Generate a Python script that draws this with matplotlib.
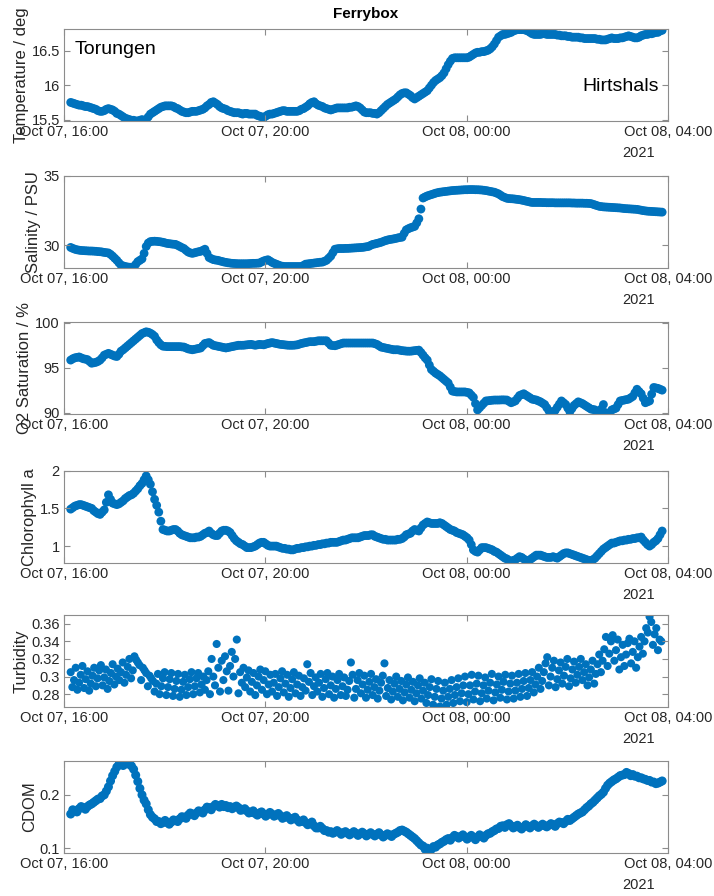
import numpy as np
import pandas as pd
import matplotlib
matplotlib.use("Agg")
import matplotlib.pyplot as plt
import matplotlib.dates as mdates
from matplotlib.ticker import FuncFormatter

plt.rcParams['font.family'] = ['Liberation Sans', 'DejaVu Sans']

# samples every 2.5 min from Oct 07 16:08, one row per hour (24 per row)
temperature = [
    15.75, 15.74, 15.73, 15.72, 15.71, 15.71, 15.70, 15.69, 15.69, 15.68, 15.67, 15.66, 15.65, 15.63, 15.62, 15.62, 15.63, 15.65, 15.66, 15.65, 15.64, 15.62, 15.59, 15.58,
    15.56, 15.54, 15.52, 15.51, 15.50, 15.49, 15.49, 15.48, 15.48, 15.49, 15.50, 15.49, 15.50, 15.54, 15.58, 15.60, 15.62, 15.64, 15.66, 15.68, 15.69, 15.70, 15.70, 15.70,
    15.70, 15.69, 15.67, 15.66, 15.64, 15.62, 15.61, 15.60, 15.60, 15.61, 15.62, 15.62, 15.62, 15.63, 15.64, 15.65, 15.67, 15.70, 15.72, 15.75, 15.76, 15.74, 15.72, 15.69,
    15.67, 15.66, 15.65, 15.63, 15.62, 15.61, 15.60, 15.60, 15.60, 15.59, 15.58, 15.59, 15.59, 15.58, 15.58, 15.58, 15.58, 15.56, 15.55, 15.54, 15.53, 15.55, 15.57, 15.58,
    15.58, 15.59, 15.60, 15.61, 15.62, 15.63, 15.63, 15.62, 15.62, 15.62, 15.62, 15.62, 15.62, 15.63, 15.65, 15.66, 15.68, 15.70, 15.73, 15.75, 15.76, 15.73, 15.71, 15.70,
    15.69, 15.67, 15.66, 15.65, 15.64, 15.65, 15.66, 15.67, 15.67, 15.67, 15.67, 15.67, 15.67, 15.68, 15.68, 15.69, 15.70, 15.69, 15.67, 15.64, 15.61, 15.60, 15.60, 15.60,
    15.59, 15.59, 15.58, 15.60, 15.63, 15.66, 15.69, 15.72, 15.74, 15.76, 15.78, 15.80, 15.83, 15.86, 15.88, 15.89, 15.89, 15.87, 15.85, 15.82, 15.80, 15.82, 15.84, 15.86,
    15.88, 15.90, 15.92, 15.96, 16.00, 16.04, 16.07, 16.09, 16.11, 16.14, 16.18, 16.24, 16.30, 16.35, 16.39, 16.40, 16.40, 16.40, 16.40, 16.40, 16.40, 16.40, 16.41, 16.43,
    16.45, 16.47, 16.48, 16.48, 16.49, 16.49, 16.50, 16.51, 16.53, 16.56, 16.60, 16.65, 16.70, 16.72, 16.74, 16.74, 16.75, 16.76, 16.77, 16.79, 16.80, 16.81, 16.81, 16.81,
    16.81, 16.80, 16.79, 16.77, 16.75, 16.74, 16.74, 16.74, 16.74, 16.75, 16.75, 16.74, 16.74, 16.74, 16.74, 16.74, 16.73, 16.73, 16.72, 16.72, 16.72, 16.71, 16.71, 16.70,
    16.70, 16.70, 16.70, 16.69, 16.69, 16.68, 16.68, 16.68, 16.68, 16.68, 16.68, 16.67, 16.67, 16.66, 16.66, 16.66, 16.67, 16.68, 16.69, 16.68, 16.68, 16.68, 16.69, 16.69,
    16.70, 16.71, 16.72, 16.71, 16.70, 16.69, 16.69, 16.70, 16.72, 16.73, 16.74, 16.74, 16.75, 16.75, 16.76, 16.77, 16.77, 16.79, 16.80,
]
salinity = [
    29.83, 29.76, 29.70, 29.66, 29.63, 29.61, 29.60, 29.59, 29.58, 29.57, 29.57, 29.56, 29.55, 29.53, 29.52, 29.50, 29.47, 29.45, 29.43, 29.33, 29.20, 29.05, 28.90, 28.72,
    28.55, 28.50, 28.45, 28.42, 28.40, 28.40, 28.42, 28.60, 28.80, 28.90, 29.00, 29.40, 29.90, 30.15, 30.25, 30.27, 30.28, 30.27, 30.25, 30.23, 30.20, 30.16, 30.12, 30.10,
    30.08, 30.06, 30.05, 29.98, 29.90, 29.82, 29.75, 29.62, 29.50, 29.44, 29.40, 29.44, 29.48, 29.52, 29.55, 29.62, 29.70, 29.40, 29.10, 29.02, 28.95, 28.92, 28.90, 28.86,
    28.82, 28.78, 28.75, 28.72, 28.70, 28.68, 28.67, 28.66, 28.65, 28.65, 28.65, 28.65, 28.65, 28.66, 28.67, 28.68, 28.68, 28.69, 28.70, 28.78, 28.85, 28.90, 28.94, 28.85,
    28.75, 28.68, 28.62, 28.56, 28.50, 28.47, 28.45, 28.45, 28.45, 28.45, 28.45, 28.45, 28.45, 28.45, 28.45, 28.53, 28.62, 28.64, 28.66, 28.68, 28.70, 28.72, 28.74, 28.76,
    28.77, 28.83, 28.90, 29.05, 29.20, 29.45, 29.70, 29.73, 29.75, 29.75, 29.75, 29.76, 29.76, 29.77, 29.78, 29.79, 29.80, 29.81, 29.82, 29.83, 29.85, 29.88, 29.90, 29.98,
    30.05, 30.08, 30.12, 30.16, 30.20, 30.26, 30.32, 30.36, 30.40, 30.42, 30.45, 30.48, 30.52, 30.55, 30.57, 30.85, 31.10, 31.18, 31.25, 31.30, 31.35, 31.60, 31.90, 32.60,
    33.40, 33.48, 33.55, 33.60, 33.65, 33.70, 33.75, 33.79, 33.82, 33.84, 33.86, 33.88, 33.90, 33.92, 33.94, 33.95, 33.96, 33.97, 33.98, 33.99, 34.00, 34.00, 34.01, 34.01,
    34.01, 34.00, 34.00, 33.99, 33.98, 33.96, 33.94, 33.91, 33.88, 33.85, 33.82, 33.76, 33.70, 33.60, 33.50, 33.44, 33.38, 33.36, 33.35, 33.34, 33.32, 33.30, 33.28, 33.25,
    33.22, 33.18, 33.15, 33.11, 33.08, 33.08, 33.08, 33.08, 33.08, 33.07, 33.07, 33.06, 33.06, 33.06, 33.06, 33.05, 33.05, 33.05, 33.05, 33.05, 33.05, 33.05, 33.05, 33.04,
    33.04, 33.03, 33.03, 33.03, 33.03, 33.02, 33.02, 33.01, 33.00, 32.95, 32.90, 32.85, 32.80, 32.78, 32.76, 32.75, 32.74, 32.73, 32.72, 32.71, 32.70, 32.69, 32.68, 32.66,
    32.64, 32.63, 32.62, 32.61, 32.60, 32.59, 32.58, 32.55, 32.52, 32.49, 32.47, 32.45, 32.44, 32.43, 32.42, 32.41, 32.40, 32.39, 32.38,
]
o2_saturation = [
    95.85, 96.00, 96.10, 96.15, 96.20, 96.10, 96.00, 95.95, 95.90, 95.70, 95.50, 95.55, 95.60, 95.70, 95.85, 96.10, 96.40, 96.50, 96.60, 96.50, 96.40, 96.30, 96.25, 96.50,
    96.84, 97.00, 97.20, 97.40, 97.60, 97.80, 98.00, 98.20, 98.40, 98.60, 98.80, 98.90, 99.00, 98.95, 98.85, 98.70, 98.50, 98.10, 97.80, 97.55, 97.40, 97.38, 97.35, 97.35,
    97.35, 97.35, 97.35, 97.35, 97.35, 97.32, 97.30, 97.20, 97.10, 97.05, 97.00, 97.05, 97.10, 97.15, 97.20, 97.45, 97.70, 97.75, 97.80, 97.65, 97.50, 97.45, 97.40, 97.35,
    97.30, 97.25, 97.20, 97.25, 97.30, 97.35, 97.40, 97.45, 97.50, 97.50, 97.50, 97.52, 97.55, 97.58, 97.60, 97.55, 97.50, 97.55, 97.60, 97.58, 97.55, 97.62, 97.70, 97.75,
    97.80, 97.75, 97.70, 97.65, 97.60, 97.58, 97.55, 97.52, 97.50, 97.50, 97.50, 97.52, 97.55, 97.62, 97.70, 97.75, 97.80, 97.85, 97.90, 97.90, 97.90, 97.95, 98.00, 98.00,
    98.00, 98.00, 98.00, 97.75, 97.50, 97.47, 97.45, 97.52, 97.60, 97.68, 97.75, 97.75, 97.75, 97.75, 97.75, 97.75, 97.75, 97.75, 97.75, 97.75, 97.75, 97.75, 97.75, 97.75,
    97.75, 97.68, 97.60, 97.45, 97.30, 97.25, 97.20, 97.15, 97.10, 97.05, 97.00, 97.00, 97.00, 96.95, 96.90, 96.88, 96.85, 96.84, 96.84, 96.87, 96.90, 96.93, 96.96, 96.70,
    96.40, 96.10, 95.85, 95.30, 94.80, 94.60, 94.40, 94.25, 94.10, 93.90, 93.70, 93.50, 93.30, 92.85, 92.40, 92.35, 92.30, 92.30, 92.30, 92.30, 92.30, 92.25, 92.20, 91.95,
    91.70, 91.00, 90.30, 90.55, 90.80, 91.05, 91.30, 91.32, 91.35, 91.38, 91.40, 91.40, 91.40, 91.41, 91.42, 91.41, 91.40, 91.25, 91.10, 91.20, 91.30, 91.60, 91.90, 92.00,
    92.10, 91.95, 91.80, 91.65, 91.50, 91.45, 91.40, 91.30, 91.20, 91.05, 90.90, 90.55, 90.20, 90.05, 89.90, 90.25, 90.60, 90.95, 91.30, 91.10, 90.90, 90.50, 90.10, 90.45,
    90.80, 91.00, 91.20, 91.10, 91.00, 90.85, 90.70, 90.55, 90.40, 90.35, 90.30, 90.10, 89.90, 90.40, 90.90, 90.00, 89.10, 89.70, 90.30, 90.40, 90.50, 90.90, 91.30, 91.35,
    91.40, 91.45, 91.50, 91.65, 91.80, 92.20, 92.60, 92.35, 92.10, 91.60, 91.10, 91.20, 91.30, 92.05, 92.80, 92.75, 92.70, 92.60, 92.50,
]
chlorophyll = [
    1.49, 1.51, 1.53, 1.54, 1.55, 1.55, 1.54, 1.53, 1.52, 1.51, 1.50, 1.47, 1.45, 1.43, 1.42, 1.45, 1.48, 1.58, 1.68, 1.62, 1.57, 1.56, 1.55, 1.56,
    1.58, 1.60, 1.63, 1.65, 1.67, 1.68, 1.70, 1.73, 1.76, 1.80, 1.83, 1.88, 1.93, 1.88, 1.82, 1.72, 1.62, 1.54, 1.45, 1.33, 1.22, 1.21, 1.20, 1.20,
    1.21, 1.22, 1.22, 1.20, 1.17, 1.15, 1.14, 1.13, 1.12, 1.11, 1.11, 1.11, 1.12, 1.12, 1.13, 1.15, 1.17, 1.18, 1.20, 1.17, 1.15, 1.14, 1.14, 1.17,
    1.20, 1.21, 1.21, 1.20, 1.18, 1.14, 1.10, 1.07, 1.05, 1.03, 1.02, 1.00, 0.98, 0.98, 0.98, 0.99, 1.00, 1.02, 1.04, 1.05, 1.05, 1.03, 1.01, 1.00,
    1.00, 1.00, 1.00, 0.99, 0.98, 0.97, 0.97, 0.96, 0.96, 0.95, 0.95, 0.96, 0.97, 0.97, 0.98, 0.98, 0.99, 0.99, 1.00, 1.00, 1.01, 1.01, 1.02, 1.02,
    1.03, 1.03, 1.04, 1.04, 1.05, 1.05, 1.05, 1.05, 1.06, 1.07, 1.08, 1.08, 1.09, 1.10, 1.11, 1.11, 1.11, 1.11, 1.12, 1.13, 1.14, 1.14, 1.14, 1.15,
    1.15, 1.13, 1.12, 1.11, 1.10, 1.09, 1.09, 1.08, 1.08, 1.08, 1.08, 1.08, 1.09, 1.09, 1.10, 1.12, 1.15, 1.16, 1.17, 1.20, 1.22, 1.21, 1.20, 1.24,
    1.28, 1.30, 1.32, 1.31, 1.30, 1.30, 1.30, 1.30, 1.31, 1.30, 1.28, 1.26, 1.24, 1.22, 1.21, 1.20, 1.18, 1.17, 1.16, 1.15, 1.13, 1.11, 1.08, 1.02,
    0.95, 0.93, 0.92, 0.95, 0.98, 0.98, 0.98, 0.97, 0.96, 0.95, 0.93, 0.92, 0.90, 0.88, 0.86, 0.84, 0.83, 0.81, 0.80, 0.81, 0.82, 0.84, 0.86, 0.85,
    0.83, 0.81, 0.80, 0.82, 0.84, 0.86, 0.88, 0.88, 0.88, 0.87, 0.86, 0.85, 0.85, 0.85, 0.86, 0.85, 0.84, 0.86, 0.88, 0.90, 0.91, 0.91, 0.90, 0.89,
    0.88, 0.87, 0.86, 0.85, 0.84, 0.83, 0.82, 0.81, 0.81, 0.82, 0.84, 0.87, 0.90, 0.93, 0.96, 0.98, 1.00, 1.02, 1.04, 1.04, 1.05, 1.06, 1.07, 1.07,
    1.08, 1.08, 1.09, 1.09, 1.10, 1.10, 1.11, 1.11, 1.12, 1.08, 1.05, 1.02, 1.00, 1.02, 1.05, 1.07, 1.10, 1.15, 1.20,
]
cdom = [
    0.164, 0.172, 0.170, 0.168, 0.174, 0.178, 0.176, 0.173, 0.178, 0.181, 0.183, 0.186, 0.189, 0.192, 0.193, 0.198, 0.200, 0.207, 0.215, 0.226, 0.236, 0.244, 0.252, 0.257,
    0.260, 0.255, 0.264, 0.258, 0.262, 0.254, 0.248, 0.237, 0.225, 0.212, 0.200, 0.190, 0.183, 0.172, 0.163, 0.158, 0.155, 0.150, 0.150, 0.146, 0.148, 0.152, 0.148, 0.145,
    0.149, 0.153, 0.152, 0.150, 0.155, 0.159, 0.158, 0.156, 0.162, 0.166, 0.164, 0.161, 0.166, 0.170, 0.169, 0.166, 0.172, 0.177, 0.176, 0.172, 0.178, 0.182, 0.180, 0.177,
    0.182, 0.178, 0.180, 0.176, 0.178, 0.174, 0.177, 0.179, 0.176, 0.171, 0.172, 0.174, 0.170, 0.166, 0.167, 0.170, 0.165, 0.162, 0.166, 0.168, 0.164, 0.160, 0.163, 0.167,
    0.164, 0.160, 0.162, 0.165, 0.161, 0.156, 0.158, 0.161, 0.157, 0.153, 0.156, 0.158, 0.153, 0.149, 0.150, 0.153, 0.148, 0.144, 0.146, 0.149, 0.142, 0.138, 0.138, 0.141,
    0.137, 0.133, 0.133, 0.130, 0.131, 0.128, 0.130, 0.133, 0.130, 0.126, 0.129, 0.131, 0.128, 0.125, 0.128, 0.131, 0.128, 0.124, 0.127, 0.130, 0.127, 0.123, 0.126, 0.129,
    0.126, 0.123, 0.126, 0.129, 0.125, 0.121, 0.124, 0.127, 0.125, 0.122, 0.126, 0.128, 0.130, 0.133, 0.134, 0.132, 0.130, 0.127, 0.124, 0.121, 0.118, 0.114, 0.110, 0.106,
    0.104, 0.098, 0.100, 0.096, 0.098, 0.103, 0.102, 0.106, 0.108, 0.111, 0.113, 0.116, 0.118, 0.115, 0.120, 0.124, 0.122, 0.119, 0.122, 0.125, 0.121, 0.117, 0.121, 0.124,
    0.120, 0.116, 0.121, 0.125, 0.122, 0.119, 0.124, 0.127, 0.128, 0.131, 0.133, 0.136, 0.137, 0.141, 0.142, 0.139, 0.144, 0.146, 0.142, 0.138, 0.140, 0.143, 0.139, 0.136,
    0.140, 0.144, 0.141, 0.138, 0.142, 0.145, 0.142, 0.139, 0.142, 0.145, 0.142, 0.140, 0.143, 0.146, 0.144, 0.141, 0.146, 0.149, 0.148, 0.146, 0.150, 0.154, 0.152, 0.155,
    0.158, 0.161, 0.164, 0.166, 0.168, 0.172, 0.176, 0.179, 0.183, 0.186, 0.190, 0.194, 0.198, 0.201, 0.205, 0.212, 0.218, 0.222, 0.225, 0.228, 0.230, 0.233, 0.236, 0.237,
    0.238, 0.242, 0.240, 0.236, 0.238, 0.235, 0.235, 0.232, 0.232, 0.230, 0.229, 0.227, 0.227, 0.224, 0.224, 0.221, 0.222, 0.224, 0.226,
]
# turbidity is noisy, read every 2 min from 16:08 (30 per row)
turbidity = [
    0.305, 0.288, 0.296, 0.310, 0.285, 0.293, 0.302, 0.312, 0.287, 0.297, 0.306, 0.284, 0.292, 0.301, 0.310, 0.289, 0.298, 0.307, 0.313, 0.290, 0.299, 0.308, 0.286, 0.295, 0.304, 0.314, 0.291, 0.300, 0.309, 0.296,
    0.305, 0.316, 0.293, 0.302, 0.311, 0.320, 0.298, 0.307, 0.323, 0.319, 0.316, 0.313, 0.296, 0.310, 0.307, 0.304, 0.289, 0.301, 0.298, 0.295, 0.283, 0.292, 0.303, 0.280, 0.289, 0.298, 0.305, 0.279, 0.288, 0.297,
    0.304, 0.278, 0.286, 0.295, 0.303, 0.277, 0.285, 0.294, 0.302, 0.279, 0.288, 0.297, 0.305, 0.280, 0.289, 0.298, 0.304, 0.282, 0.291, 0.300, 0.285, 0.296, 0.306, 0.280, 0.320, 0.300, 0.290, 0.337, 0.310, 0.283,
    0.318, 0.296, 0.323, 0.306, 0.284, 0.312, 0.328, 0.300, 0.320, 0.342, 0.281, 0.305, 0.293, 0.310, 0.288, 0.299, 0.307, 0.283, 0.294, 0.304, 0.279, 0.290, 0.300, 0.308, 0.285, 0.296, 0.306, 0.280, 0.291, 0.302,
    0.283, 0.293, 0.303, 0.278, 0.288, 0.298, 0.306, 0.282, 0.292, 0.302, 0.277, 0.287, 0.297, 0.305, 0.281, 0.291, 0.301, 0.278, 0.288, 0.298, 0.284, 0.314, 0.294, 0.304, 0.279, 0.289, 0.299, 0.283, 0.293, 0.303,
    0.277, 0.287, 0.297, 0.304, 0.280, 0.290, 0.300, 0.276, 0.286, 0.296, 0.303, 0.279, 0.289, 0.299, 0.278, 0.285, 0.295, 0.316, 0.302, 0.276, 0.286, 0.296, 0.304, 0.281, 0.291, 0.301, 0.276, 0.285, 0.294, 0.303,
    0.279, 0.288, 0.297, 0.275, 0.284, 0.293, 0.301, 0.315, 0.278, 0.287, 0.296, 0.274, 0.283, 0.292, 0.300, 0.277, 0.286, 0.295, 0.273, 0.282, 0.291, 0.299, 0.276, 0.285, 0.294, 0.272, 0.281, 0.290, 0.298, 0.275,
    0.284, 0.293, 0.270, 0.279, 0.288, 0.297, 0.268, 0.277, 0.286, 0.295, 0.266, 0.275, 0.284, 0.293, 0.268, 0.277, 0.286, 0.296, 0.270, 0.279, 0.288, 0.298, 0.272, 0.281, 0.290, 0.300, 0.271, 0.280, 0.290, 0.302,
    0.274, 0.283, 0.292, 0.301, 0.272, 0.281, 0.290, 0.299, 0.275, 0.284, 0.293, 0.303, 0.273, 0.282, 0.291, 0.300, 0.276, 0.285, 0.294, 0.302, 0.274, 0.283, 0.292, 0.301, 0.275, 0.284, 0.293, 0.303, 0.277, 0.286,
    0.295, 0.304, 0.278, 0.287, 0.296, 0.305, 0.282, 0.291, 0.300, 0.310, 0.286, 0.295, 0.305, 0.315, 0.322, 0.290, 0.300, 0.310, 0.318, 0.288, 0.297, 0.307, 0.316, 0.292, 0.301, 0.311, 0.320, 0.289, 0.298, 0.308,
    0.317, 0.293, 0.302, 0.311, 0.320, 0.296, 0.305, 0.314, 0.290, 0.299, 0.308, 0.318, 0.292, 0.303, 0.314, 0.325, 0.305, 0.318, 0.331, 0.345, 0.312, 0.326, 0.340, 0.347, 0.318, 0.330, 0.342, 0.308, 0.322, 0.336,
    0.312, 0.325, 0.338, 0.343, 0.315, 0.328, 0.340, 0.310, 0.322, 0.334, 0.345, 0.326, 0.340, 0.355, 0.350, 0.368, 0.362, 0.336, 0.348, 0.355, 0.330, 0.342, 0.340,
]

start = pd.Timestamp('2021-10-07 16:08')
t_main = pd.date_range(start, periods=len(temperature), freq='150s')
t_turb = pd.date_range(start, periods=len(turbidity), freq='2min')

panels = [
    (t_main, temperature, 'Temperature / deg', (15.48, 16.82), [15.5, 16, 16.5], 40),
    (t_main, salinity, 'Salinity / PSU', (28.35, 35), [30, 35], 40),
    (t_main, o2_saturation, 'O2 Saturation / %', (89.85, 100.1), [90, 95, 100], 40),
    (t_main, chlorophyll, 'Chlorophyll a', (0.78, 2.0), [1, 1.5, 2], 40),
    (t_turb, turbidity, 'Turbidity', (0.2655, 0.370), [0.28, 0.30, 0.32, 0.34, 0.36], 34),
    (t_main, cdom, 'CDOM', (0.091, 0.2635), [0.1, 0.2], 42),
]

fig = plt.figure(figsize=(7.14, 8.96), dpi=100)
bottoms = [0.865, 0.701, 0.538, 0.372, 0.211, 0.048]
xticks = pd.to_datetime(['2021-10-07 16:00', '2021-10-07 20:00',
                         '2021-10-08 00:00', '2021-10-08 04:00'])
blue = '#0072BD'
spine_col = '#8c8c8c'
text_col = '#262626'

for (t, vals, label, ylim, yt, msize), b in zip(panels, bottoms):
    ax = fig.add_axes([0.0896, b, 0.846, 0.1027])
    ax.scatter(t, vals, s=msize, color=blue, edgecolors='none')
    ax.set_xlim(xticks[0], xticks[-1])
    ax.set_ylim(*ylim)
    ax.set_xticks(xticks)
    ax.xaxis.set_major_formatter(mdates.DateFormatter('%b %d, %H:%M'))
    ax.set_yticks(yt)
    ax.yaxis.set_major_formatter(FuncFormatter(lambda v, p: '%g' % round(v, 4)))
    ax.tick_params(direction='in', top=True, right=True, length=4, width=0.8,
                   color=spine_col, labelcolor=text_col, labelsize=10.5, pad=3)
    for s in ax.spines.values():
        s.set_color(spine_col)
        s.set_linewidth(0.8)
    ax.set_ylabel(label, fontsize=12, color=text_col, labelpad=2)
    ax.text(0.924, -0.27, '2021', transform=ax.transAxes, fontsize=10.5,
            color=text_col, ha='left', va='top')
    if b == bottoms[0]:
        ax.set_title('Ferrybox', fontsize=11, fontweight='bold', color='black', pad=8)
        ax.text(0.018, 0.78, 'Torungen', transform=ax.transAxes, fontsize=14,
                color='black', ha='left', va='center')
        ax.text(0.985, 0.37, 'Hirtshals', transform=ax.transAxes, fontsize=14,
                color='black', ha='right', va='center')

fig.savefig('out.png', dpi=100)
